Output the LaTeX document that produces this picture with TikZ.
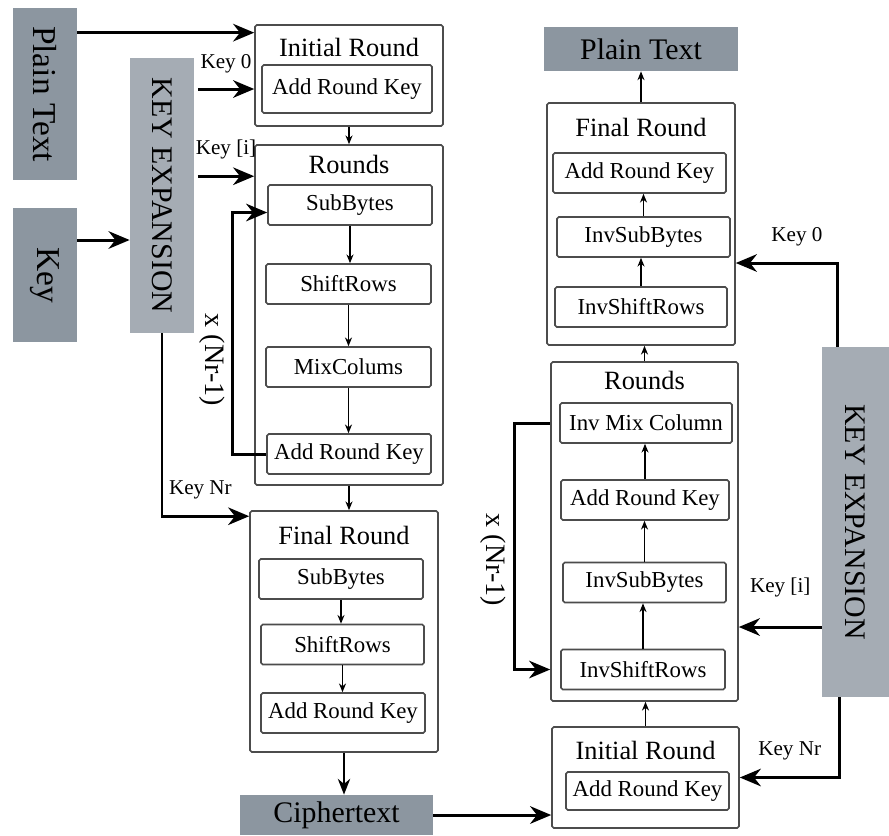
\documentclass[tikz,border=0pt]{standalone}
\usepackage{fontspec}
\setmainfont{LiberationSerif-Regular.ttf}[BoldFont=LiberationSerif-Bold.ttf]
\usetikzlibrary{arrows.meta, positioning, calc}
\definecolor{slate}{RGB}{140,150,160}
\definecolor{slatelight}{RGB}{165,172,180}

\begin{document}
\begin{tikzpicture}[
    graybox/.style={rectangle, fill=slate, inner sep=0pt, minimum width=1.28cm, font=\fontsize{17}{20}\selectfont},
    roundbox/.style={rectangle, draw=black!70, line width=0.9pt, rounded corners=1pt, fill=white, minimum width=3.76cm},
    stepbox/.style={rectangle, draw=black!70, line width=0.9pt, rounded corners=1pt, fill=white, inner sep=0pt, minimum height=0.8cm, font=\fontsize{13}{15}\selectfont},
    roundtitle/.style={font=\fontsize{15}{18}\selectfont},
    keylbl/.style={font=\fontsize{12}{14}\selectfont},
    looplbl/.style={font=\fontsize{16}{18}\selectfont, rotate=-90},
    bigarrow/.style={-{Stealth[length=12pt,width=10pt]}, line width=1.7pt},
    smallarrow/.style={-{Stealth[length=5pt,width=4pt]}, line width=0.7pt}
]
\useasboundingbox (0,0) rectangle (17.78,-16.7);

% Inputs and key expansion (left)
\node[graybox, minimum height=3.44cm, font=\fontsize{19}{22}\selectfont] (ptL) at (0.9,-1.88) {\rotatebox{-90}{Plain Text}};
\node[graybox, minimum height=2.68cm, font=\fontsize{19}{22}\selectfont] (keyL) at (0.9,-5.5) {\rotatebox{-90}{Key}};
\node[graybox, fill=slatelight, minimum height=5.5cm] (kexL) at (3.24,-3.91) {\rotatebox{-90}{KEY EXPANSION}};

% Encryption: initial round
\node[roundbox, minimum height=2.02cm] (initL) at (6.98,-1.51) {};
\node[roundtitle] (initLt) at (6.98,-0.94) {Initial Round};
\node[stepbox, minimum width=3.4cm, minimum height=0.96cm] (arkA) at (6.94,-1.78) {Add Round Key};

% Encryption: rounds
\node[roundbox, minimum height=6.8cm] (rndL) at (6.98,-6.3) {};
\node[roundtitle] (rndLt) at (6.98,-3.28) {Rounds};
\node[stepbox, minimum width=3.28cm] (sbL) at (7.0,-4.1) {SubBytes};
\node[stepbox, minimum width=3.3cm] (srL) at (6.97,-5.68) {ShiftRows};
\node[stepbox, minimum width=3.3cm] (mcL) at (6.97,-7.34) {MixColums};
\node[stepbox, minimum width=3.28cm] (arkB) at (6.98,-9.08) {Add Round Key};

% Encryption: final round
\node[roundbox, minimum height=4.82cm] (finL) at (6.88,-12.63) {};
\node[roundtitle] (finLt) at (6.88,-10.7) {Final Round};
\node[stepbox, minimum width=3.28cm] (sbF) at (6.82,-11.58) {SubBytes};
\node[stepbox, minimum width=3.26cm] (srF) at (6.85,-12.89) {ShiftRows};
\node[stepbox, minimum width=3.28cm] (arkC) at (6.86,-14.26) {Add Round Key};

\node[graybox, minimum width=3.86cm, minimum height=0.8cm] (ciph) at (6.73,-16.3) {Ciphertext};

% Decryption column (right)
\node[graybox, minimum width=3.88cm, minimum height=0.88cm] (ptR) at (12.82,-0.98) {Plain Text};

\node[roundbox, minimum height=4.84cm] (finR) at (12.82,-4.48) {};
\node[roundtitle] (finRt) at (12.82,-2.54) {Final Round};
\node[stepbox, minimum width=3.46cm] (arkD) at (12.79,-3.46) {Add Round Key};
\node[stepbox, minimum width=3.46cm] (isbF) at (12.87,-4.74) {InvSubBytes};
\node[stepbox, minimum width=3.44cm] (isrF) at (12.82,-6.14) {InvShiftRows};

\node[roundbox, minimum width=3.74cm, minimum height=6.78cm] (rndR) at (12.89,-10.63) {};
\node[roundtitle] (rndRt) at (12.89,-7.6) {Rounds};
\node[stepbox, minimum width=3.44cm] (imc) at (12.92,-8.46) {Inv Mix Column};
\node[stepbox, minimum width=3.36cm] (arkE) at (12.9,-10.0) {Add Round Key};
\node[stepbox, minimum width=3.26cm] (isbR) at (12.89,-11.65) {InvSubBytes};
\node[stepbox, minimum width=3.28cm] (isrR) at (12.86,-13.39) {InvShiftRows};

\node[roundbox, minimum width=3.74cm, minimum height=2.02cm] (initR) at (12.91,-15.55) {};
\node[roundtitle] (initRt) at (12.91,-15.0) {Initial Round};
\node[stepbox, minimum width=3.26cm, minimum height=0.76cm] (arkF) at (12.95,-15.82) {Add Round Key};

\node[graybox, fill=slatelight, minimum width=1.34cm, minimum height=7.0cm] (kexR) at (17.11,-10.44) {\rotatebox{-90}{KEY EXPANSION}};

% Helper points for the key lines
\coordinate (ptout) at ([yshift=-0.5cm]ptL.north east);
\coordinate (keyout) at ([yshift=0.7cm]keyL.east);
\coordinate (kiL) at ([yshift=-0.64cm]rndL.north west);
\coordinate (knrL) at ([yshift=-0.12cm]finL.north west);
\coordinate (k0R) at ([xshift=0.32cm]kexR.north west);
\coordinate (k0Rin) at ([yshift=-0.78cm]finR.east);
\coordinate (kiR) at ([yshift=-2.1cm]kexR.west);
\coordinate (knrR) at ([xshift=0.36cm]kexR.south west);

% Left side arrows
\draw[bigarrow] (ptout) -- (ptout -| initL.west);
\draw[bigarrow] (keyout) -- (keyout -| kexL.west);
\draw[bigarrow] ([xshift=2pt]kexL.east |- arkA) -- node[keylbl, above=0.18cm] {Key 0} (initL.west |- arkA);
\draw[bigarrow] ([xshift=2pt]kexL.east |- kiL) -- node[keylbl, above=0.2cm] {Key [i]} (kiL);
\draw[bigarrow] (kexL.south) |- node[keylbl, pos=0.72, above=0.2cm] {Key Nr} (knrL);
\draw[bigarrow] (arkB.west) -- ++(-0.68,0) |- ([yshift=-0.15cm]sbL.west);
\node[looplbl] (loopL) at (4.24,-7.2) {x (Nr-1)};

% Encryption flow
\draw[smallarrow, line width=1pt] (initL.south) -- (initL.south |- rndL.north);
\draw[smallarrow] (sbL.south) -- (sbL.south |- srL.north);
\draw[smallarrow] (srL.south) -- (srL.south |- mcL.north);
\draw[smallarrow] (mcL.south) -- (mcL.south |- arkB.north);
\draw[smallarrow, line width=1pt] (rndL.south) -- (rndL.south |- finL.north);
\draw[smallarrow] (sbF.south) -- (sbF.south |- srF.north);
\draw[smallarrow] (srF.south) -- (srF.south |- arkC.north);
\draw[-{Stealth[length=9pt,width=7pt]}, line width=1.3pt] (finL.south) -- (finL.south |- ciph.north);
\draw[bigarrow] (ciph.east) -- (ciph.east -| initR.west);

% Decryption flow
\draw[smallarrow, line width=1pt] (initR.north) -- (initR.north |- rndR.south);
\draw[smallarrow] (isrR.north) -- (isrR.north |- isbR.south);
\draw[smallarrow] (isbR.north) -- (isbR.north |- arkE.south);
\draw[smallarrow] (arkE.north) -- (arkE.north |- imc.south);
\draw[smallarrow, line width=1pt] (rndR.north) -- (rndR.north |- finR.south);
\draw[smallarrow] (isrF.north) -- (isrF.north |- isbF.south);
\draw[smallarrow] (isbF.north) -- (isbF.north |- arkD.south);
\draw[smallarrow, line width=1pt] (finR.north) -- (finR.north |- ptR.south);

% Right side key lines
\draw[bigarrow] (k0R) |- node[keylbl, pos=0.7, above=0.2cm] {Key 0} (k0Rin);
\draw[bigarrow] (kiR) -- node[keylbl, above=0.45cm] {Key [i]} (kiR -| rndR.east);
\draw[bigarrow] (knrR) |- node[keylbl, pos=0.75, above=0.2cm] {Key Nr} (initR.east);
\draw[bigarrow] (rndR.west |- imc) -- ++(-0.72,0) |- (rndR.west |- isrR);
\node[looplbl] (loopR) at (9.86,-11.2) {x (Nr-1)};

\end{tikzpicture}
\end{document}
